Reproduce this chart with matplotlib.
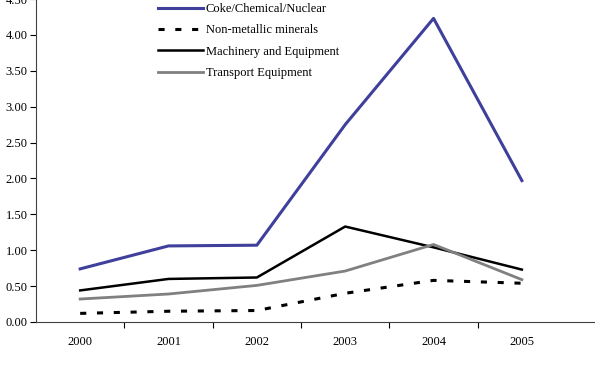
import numpy as np
import matplotlib.pyplot as plt
from matplotlib.ticker import FixedLocator, FormatStrFormatter

anos = ["2000", "2001", "2002", "2003", "2004", "2005"]
coke = [0.74, 1.06, 1.07, 2.75, 4.23, 1.97]
nao_metalicos = [0.12, 0.15, 0.16, 0.40, 0.58, 0.54]
maquinas = [0.44, 0.60, 0.62, 1.33, 1.04, 0.73]
transporte = [0.32, 0.39, 0.51, 0.71, 1.08, 0.59]

plt.rcParams['font.family'] = ['Liberation Serif', 'DejaVu Serif']
plt.rcParams['font.size'] = 9

fig = plt.figure(figsize=(5.95, 3.68), dpi=100)
ax = fig.add_axes([36/595, 46/368, (595-36)/595, 323/368])

x = np.arange(len(anos))
ax.plot(x, coke, color='#3f3f9c', linewidth=2.2, label='Coke/Chemical/Nuclear')
ax.plot(x, nao_metalicos, color='black', linewidth=2.2, dashes=(2, 3.5),
        label='Non-metallic minerals')
ax.plot(x, maquinas, color='black', linewidth=1.8, label='Machinery and Equipment')
ax.plot(x, transporte, color='#808080', linewidth=2.0, label='Transport Equipment')

passo = 88.5
ax.set_xlim(-0.5, 5.5 + 29/passo)
ax.set_ylim(0, 4.5)
ax.set_xticks(x)
ax.set_xticklabels(anos)
ax.xaxis.set_minor_locator(FixedLocator(np.arange(0.5, 5.0, 1.0)))
ax.tick_params(axis='x', which='major', length=0, pad=10)
ax.tick_params(axis='x', which='minor', length=4, direction='out', width=0.8)
ax.set_yticks(np.arange(0, 4.51, 0.5))
ax.yaxis.set_major_formatter(FormatStrFormatter('%.2f'))
ax.tick_params(axis='y', length=4, direction='out', width=0.8, pad=2)

for s in ['top', 'right']:
    ax.spines[s].set_visible(False)
ax.spines['left'].set_color('#404040')
ax.spines['bottom'].set_color('#404040')

fig.legend(loc='upper left', bbox_to_anchor=(147/595, 1.022), frameon=False,
           handlelength=3.6, handletextpad=0.2, labelspacing=0.74, fontsize=9)

fig.savefig('out.png', dpi=100)
